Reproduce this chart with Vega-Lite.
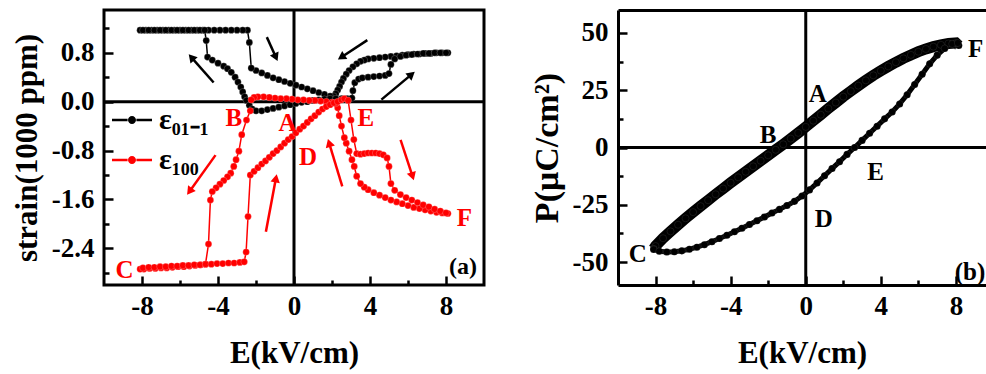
{
"$schema": "https://vega.github.io/schema/vega-lite/v6.json",
"background": "white",
"padding": {"left": 9, "top": 7, "right": 0, "bottom": 4},
"spacing": 43,
"config": {
  "font": "Liberation Serif",
  "view": {"stroke": "black", "strokeWidth": 3},
  "axis": {"labelFont": "Liberation Serif", "labelFontWeight": "bold", "labelFontSize": 27, "labelColor": "black", "labelOverlap": false,
           "titleFont": "Liberation Serif", "titleFontWeight": "bold", "titleFontSize": 31, "titleColor": "black",
           "grid": false, "domain": false, "tickColor": "black", "tickWidth": 2.5}
},
"datasets": {
  "strain": [
    {"i":1,"s":"ε₀₁₋₁","E":8.1,"S":0.80},{"i":2,"s":"ε₀₁₋₁","E":7.8,"S":0.80},{"i":3,"s":"ε₀₁₋₁","E":7.5,"S":0.80},{"i":4,"s":"ε₀₁₋₁","E":7.2,"S":0.79},{"i":5,"s":"ε₀₁₋₁","E":6.9,"S":0.79},{"i":6,"s":"ε₀₁₋₁","E":6.6,"S":0.78},{"i":7,"s":"ε₀₁₋₁","E":6.3,"S":0.78},{"i":8,"s":"ε₀₁₋₁","E":6.0,"S":0.77},{"i":9,"s":"ε₀₁₋₁","E":5.7,"S":0.76},{"i":10,"s":"ε₀₁₋₁","E":5.4,"S":0.75},
    {"i":11,"s":"ε₀₁₋₁","E":5.1,"S":0.74},{"i":12,"s":"ε₀₁₋₁","E":4.8,"S":0.73},{"i":13,"s":"ε₀₁₋₁","E":4.5,"S":0.72},{"i":14,"s":"ε₀₁₋₁","E":4.2,"S":0.71},{"i":15,"s":"ε₀₁₋₁","E":3.9,"S":0.70},{"i":16,"s":"ε₀₁₋₁","E":3.7,"S":0.68},{"i":17,"s":"ε₀₁₋₁","E":3.5,"S":0.66},{"i":18,"s":"ε₀₁₋₁","E":3.3,"S":0.62},{"i":19,"s":"ε₀₁₋₁","E":3.1,"S":0.57},{"i":20,"s":"ε₀₁₋₁","E":2.9,"S":0.51},
    {"i":21,"s":"ε₀₁₋₁","E":2.75,"S":0.45},{"i":22,"s":"ε₀₁₋₁","E":2.6,"S":0.38},{"i":23,"s":"ε₀₁₋₁","E":2.5,"S":0.32},{"i":24,"s":"ε₀₁₋₁","E":2.4,"S":0.25},{"i":25,"s":"ε₀₁₋₁","E":2.3,"S":0.19},{"i":26,"s":"ε₀₁₋₁","E":2.2,"S":0.13},{"i":27,"s":"ε₀₁₋₁","E":2.1,"S":0.09},{"i":28,"s":"ε₀₁₋₁","E":1.9,"S":0.09},{"i":29,"s":"ε₀₁₋₁","E":1.6,"S":0.12},{"i":30,"s":"ε₀₁₋₁","E":1.3,"S":0.15},
    {"i":31,"s":"ε₀₁₋₁","E":1.0,"S":0.18},{"i":32,"s":"ε₀₁₋₁","E":0.7,"S":0.21},{"i":33,"s":"ε₀₁₋₁","E":0.4,"S":0.24},{"i":34,"s":"ε₀₁₋₁","E":0.1,"S":0.27},{"i":35,"s":"ε₀₁₋₁","E":-0.2,"S":0.30},{"i":36,"s":"ε₀₁₋₁","E":-0.5,"S":0.33},{"i":37,"s":"ε₀₁₋₁","E":-0.8,"S":0.36},{"i":38,"s":"ε₀₁₋₁","E":-1.1,"S":0.39},{"i":39,"s":"ε₀₁₋₁","E":-1.4,"S":0.43},{"i":40,"s":"ε₀₁₋₁","E":-1.7,"S":0.47},
    {"i":41,"s":"ε₀₁₋₁","E":-2.0,"S":0.51},{"i":42,"s":"ε₀₁₋₁","E":-2.25,"S":0.55},{"i":43,"s":"ε₀₁₋₁","E":-2.35,"S":0.97},{"i":44,"s":"ε₀₁₋₁","E":-2.45,"S":1.17},{"i":45,"s":"ε₀₁₋₁","E":-2.7,"S":1.17},{"i":46,"s":"ε₀₁₋₁","E":-3.0,"S":1.17},{"i":47,"s":"ε₀₁₋₁","E":-3.3,"S":1.17},{"i":48,"s":"ε₀₁₋₁","E":-3.6,"S":1.17},{"i":49,"s":"ε₀₁₋₁","E":-3.9,"S":1.17},{"i":50,"s":"ε₀₁₋₁","E":-4.2,"S":1.17},
    {"i":51,"s":"ε₀₁₋₁","E":-4.5,"S":1.17},{"i":52,"s":"ε₀₁₋₁","E":-4.8,"S":1.17},{"i":53,"s":"ε₀₁₋₁","E":-5.1,"S":1.17},{"i":54,"s":"ε₀₁₋₁","E":-5.4,"S":1.17},{"i":55,"s":"ε₀₁₋₁","E":-5.7,"S":1.17},{"i":56,"s":"ε₀₁₋₁","E":-6.0,"S":1.17},{"i":57,"s":"ε₀₁₋₁","E":-6.3,"S":1.17},{"i":58,"s":"ε₀₁₋₁","E":-6.6,"S":1.17},{"i":59,"s":"ε₀₁₋₁","E":-6.9,"S":1.17},{"i":60,"s":"ε₀₁₋₁","E":-7.2,"S":1.17},
    {"i":61,"s":"ε₀₁₋₁","E":-7.5,"S":1.17},{"i":62,"s":"ε₀₁₋₁","E":-7.8,"S":1.17},{"i":63,"s":"ε₀₁₋₁","E":-8.1,"S":1.17},{"i":64,"s":"ε₀₁₋₁","E":-7.95,"S":1.17},{"i":65,"s":"ε₀₁₋₁","E":-7.65,"S":1.17},{"i":66,"s":"ε₀₁₋₁","E":-7.35,"S":1.17},{"i":67,"s":"ε₀₁₋₁","E":-7.05,"S":1.17},{"i":68,"s":"ε₀₁₋₁","E":-6.75,"S":1.17},{"i":69,"s":"ε₀₁₋₁","E":-6.45,"S":1.17},{"i":70,"s":"ε₀₁₋₁","E":-6.15,"S":1.17},
    {"i":71,"s":"ε₀₁₋₁","E":-5.85,"S":1.17},{"i":72,"s":"ε₀₁₋₁","E":-5.55,"S":1.17},{"i":73,"s":"ε₀₁₋₁","E":-5.25,"S":1.17},{"i":74,"s":"ε₀₁₋₁","E":-4.95,"S":1.17},{"i":75,"s":"ε₀₁₋₁","E":-4.7,"S":1.17},{"i":76,"s":"ε₀₁₋₁","E":-4.62,"S":1.0},{"i":77,"s":"ε₀₁₋₁","E":-4.55,"S":0.73},{"i":78,"s":"ε₀₁₋₁","E":-4.3,"S":0.68},{"i":79,"s":"ε₀₁₋₁","E":-4.0,"S":0.63},{"i":80,"s":"ε₀₁₋₁","E":-3.7,"S":0.58},
    {"i":81,"s":"ε₀₁₋₁","E":-3.5,"S":0.54},{"i":82,"s":"ε₀₁₋₁","E":-3.3,"S":0.48},{"i":83,"s":"ε₀₁₋₁","E":-3.1,"S":0.40},{"i":84,"s":"ε₀₁₋₁","E":-2.95,"S":0.32},{"i":85,"s":"ε₀₁₋₁","E":-2.8,"S":0.24},{"i":86,"s":"ε₀₁₋₁","E":-2.7,"S":0.16},{"i":87,"s":"ε₀₁₋₁","E":-2.6,"S":0.08},{"i":88,"s":"ε₀₁₋₁","E":-2.5,"S":0.02},{"i":89,"s":"ε₀₁₋₁","E":-2.35,"S":-0.06},{"i":90,"s":"ε₀₁₋₁","E":-2.2,"S":-0.12},
    {"i":91,"s":"ε₀₁₋₁","E":-2.0,"S":-0.15},{"i":92,"s":"ε₀₁₋₁","E":-1.7,"S":-0.15},{"i":93,"s":"ε₀₁₋₁","E":-1.4,"S":-0.13},{"i":94,"s":"ε₀₁₋₁","E":-1.1,"S":-0.11},{"i":95,"s":"ε₀₁₋₁","E":-0.8,"S":-0.09},{"i":96,"s":"ε₀₁₋₁","E":-0.5,"S":-0.07},{"i":97,"s":"ε₀₁₋₁","E":-0.2,"S":-0.05},{"i":98,"s":"ε₀₁₋₁","E":0.1,"S":-0.03},{"i":99,"s":"ε₀₁₋₁","E":0.4,"S":-0.01},{"i":100,"s":"ε₀₁₋₁","E":0.7,"S":0.0},
    {"i":101,"s":"ε₀₁₋₁","E":1.0,"S":0.02},{"i":102,"s":"ε₀₁₋₁","E":1.3,"S":0.03},{"i":103,"s":"ε₀₁₋₁","E":1.6,"S":0.04},{"i":104,"s":"ε₀₁₋₁","E":1.9,"S":0.05},{"i":105,"s":"ε₀₁₋₁","E":2.2,"S":0.05},{"i":106,"s":"ε₀₁₋₁","E":2.5,"S":0.05},{"i":107,"s":"ε₀₁₋₁","E":2.8,"S":0.05},{"i":108,"s":"ε₀₁₋₁","E":3.05,"S":0.06},{"i":109,"s":"ε₀₁₋₁","E":3.1,"S":0.18},{"i":110,"s":"ε₀₁₋₁","E":3.2,"S":0.31},
    {"i":111,"s":"ε₀₁₋₁","E":3.4,"S":0.37},{"i":112,"s":"ε₀₁₋₁","E":3.6,"S":0.39},{"i":113,"s":"ε₀₁₋₁","E":3.9,"S":0.40},{"i":114,"s":"ε₀₁₋₁","E":4.2,"S":0.41},{"i":115,"s":"ε₀₁₋₁","E":4.5,"S":0.42},{"i":116,"s":"ε₀₁₋₁","E":4.8,"S":0.43},{"i":117,"s":"ε₀₁₋₁","E":5.0,"S":0.46},{"i":118,"s":"ε₀₁₋₁","E":5.1,"S":0.61},{"i":119,"s":"ε₀₁₋₁","E":5.3,"S":0.70},{"i":120,"s":"ε₀₁₋₁","E":5.6,"S":0.74},
    {"i":121,"s":"ε₀₁₋₁","E":5.9,"S":0.76},{"i":122,"s":"ε₀₁₋₁","E":6.2,"S":0.77},{"i":123,"s":"ε₀₁₋₁","E":6.5,"S":0.78},{"i":124,"s":"ε₀₁₋₁","E":6.8,"S":0.79},{"i":125,"s":"ε₀₁₋₁","E":7.1,"S":0.79},{"i":126,"s":"ε₀₁₋₁","E":7.4,"S":0.80},{"i":127,"s":"ε₀₁₋₁","E":7.7,"S":0.80},{"i":128,"s":"ε₀₁₋₁","E":8.0,"S":0.80},
    {"i":201,"s":"ε₁₀₀","E":8.1,"S":-1.83},{"i":202,"s":"ε₁₀₀","E":7.8,"S":-1.82},{"i":203,"s":"ε₁₀₀","E":7.5,"S":-1.81},{"i":204,"s":"ε₁₀₀","E":7.2,"S":-1.79},{"i":205,"s":"ε₁₀₀","E":6.9,"S":-1.77},{"i":206,"s":"ε₁₀₀","E":6.6,"S":-1.75},{"i":207,"s":"ε₁₀₀","E":6.3,"S":-1.73},{"i":208,"s":"ε₁₀₀","E":6.0,"S":-1.70},{"i":209,"s":"ε₁₀₀","E":5.7,"S":-1.67},{"i":210,"s":"ε₁₀₀","E":5.4,"S":-1.64},
    {"i":211,"s":"ε₁₀₀","E":5.1,"S":-1.61},{"i":212,"s":"ε₁₀₀","E":4.8,"S":-1.57},{"i":213,"s":"ε₁₀₀","E":4.5,"S":-1.53},{"i":214,"s":"ε₁₀₀","E":4.2,"S":-1.49},{"i":215,"s":"ε₁₀₀","E":3.9,"S":-1.44},{"i":216,"s":"ε₁₀₀","E":3.7,"S":-1.40},{"i":217,"s":"ε₁₀₀","E":3.5,"S":-1.34},{"i":218,"s":"ε₁₀₀","E":3.3,"S":-1.22},{"i":219,"s":"ε₁₀₀","E":3.17,"S":-1.06},{"i":220,"s":"ε₁₀₀","E":3.05,"S":-0.95},
    {"i":221,"s":"ε₁₀₀","E":2.9,"S":-0.81},{"i":222,"s":"ε₁₀₀","E":2.75,"S":-0.68},{"i":223,"s":"ε₁₀₀","E":2.65,"S":-0.59},{"i":224,"s":"ε₁₀₀","E":2.5,"S":-0.40},{"i":225,"s":"ε₁₀₀","E":2.38,"S":-0.23},{"i":226,"s":"ε₁₀₀","E":2.3,"S":-0.10},{"i":227,"s":"ε₁₀₀","E":2.2,"S":-0.03},{"i":228,"s":"ε₁₀₀","E":2.0,"S":-0.01},{"i":229,"s":"ε₁₀₀","E":1.7,"S":0.0},{"i":230,"s":"ε₁₀₀","E":1.4,"S":0.01},
    {"i":231,"s":"ε₁₀₀","E":1.1,"S":0.02},{"i":232,"s":"ε₁₀₀","E":0.8,"S":0.02},{"i":233,"s":"ε₁₀₀","E":0.5,"S":0.03},{"i":234,"s":"ε₁₀₀","E":0.2,"S":0.03},{"i":235,"s":"ε₁₀₀","E":-0.1,"S":0.04},{"i":236,"s":"ε₁₀₀","E":-0.4,"S":0.05},{"i":237,"s":"ε₁₀₀","E":-0.7,"S":0.05},{"i":238,"s":"ε₁₀₀","E":-1.0,"S":0.06},{"i":239,"s":"ε₁₀₀","E":-1.3,"S":0.07},{"i":240,"s":"ε₁₀₀","E":-1.6,"S":0.08},
    {"i":241,"s":"ε₁₀₀","E":-1.9,"S":0.08},{"i":242,"s":"ε₁₀₀","E":-2.1,"S":0.07},{"i":243,"s":"ε₁₀₀","E":-2.25,"S":0.03},{"i":244,"s":"ε₁₀₀","E":-2.3,"S":-0.15},{"i":245,"s":"ε₁₀₀","E":-2.5,"S":-0.30},{"i":246,"s":"ε₁₀₀","E":-2.75,"S":-0.54},{"i":247,"s":"ε₁₀₀","E":-2.9,"S":-0.81},{"i":248,"s":"ε₁₀₀","E":-3.05,"S":-0.95},{"i":249,"s":"ε₁₀₀","E":-3.17,"S":-1.06},{"i":250,"s":"ε₁₀₀","E":-3.33,"S":-1.17},
    {"i":251,"s":"ε₁₀₀","E":-3.5,"S":-1.23},{"i":252,"s":"ε₁₀₀","E":-3.7,"S":-1.29},{"i":253,"s":"ε₁₀₀","E":-3.9,"S":-1.35},{"i":254,"s":"ε₁₀₀","E":-4.1,"S":-1.41},{"i":255,"s":"ε₁₀₀","E":-4.3,"S":-1.47},{"i":256,"s":"ε₁₀₀","E":-4.4,"S":-1.61},{"i":257,"s":"ε₁₀₀","E":-4.5,"S":-2.33},{"i":258,"s":"ε₁₀₀","E":-4.66,"S":-2.66},{"i":259,"s":"ε₁₀₀","E":-4.9,"S":-2.67},{"i":260,"s":"ε₁₀₀","E":-5.2,"S":-2.68},
    {"i":261,"s":"ε₁₀₀","E":-5.5,"S":-2.69},{"i":262,"s":"ε₁₀₀","E":-5.8,"S":-2.70},{"i":263,"s":"ε₁₀₀","E":-6.1,"S":-2.70},{"i":264,"s":"ε₁₀₀","E":-6.4,"S":-2.71},{"i":265,"s":"ε₁₀₀","E":-6.7,"S":-2.72},{"i":266,"s":"ε₁₀₀","E":-7.0,"S":-2.72},{"i":267,"s":"ε₁₀₀","E":-7.3,"S":-2.73},{"i":268,"s":"ε₁₀₀","E":-7.6,"S":-2.73},{"i":269,"s":"ε₁₀₀","E":-7.9,"S":-2.74},{"i":270,"s":"ε₁₀₀","E":-8.1,"S":-2.74},
    {"i":271,"s":"ε₁₀₀","E":-7.95,"S":-2.72},{"i":272,"s":"ε₁₀₀","E":-7.65,"S":-2.71},{"i":273,"s":"ε₁₀₀","E":-7.35,"S":-2.71},{"i":274,"s":"ε₁₀₀","E":-7.05,"S":-2.70},{"i":275,"s":"ε₁₀₀","E":-6.75,"S":-2.70},{"i":276,"s":"ε₁₀₀","E":-6.45,"S":-2.69},{"i":277,"s":"ε₁₀₀","E":-6.15,"S":-2.69},{"i":278,"s":"ε₁₀₀","E":-5.85,"S":-2.68},{"i":279,"s":"ε₁₀₀","E":-5.55,"S":-2.68},{"i":280,"s":"ε₁₀₀","E":-5.25,"S":-2.67},
    {"i":281,"s":"ε₁₀₀","E":-4.95,"S":-2.67},{"i":282,"s":"ε₁₀₀","E":-4.65,"S":-2.66},{"i":283,"s":"ε₁₀₀","E":-4.35,"S":-2.66},{"i":284,"s":"ε₁₀₀","E":-4.05,"S":-2.65},{"i":285,"s":"ε₁₀₀","E":-3.75,"S":-2.65},{"i":286,"s":"ε₁₀₀","E":-3.45,"S":-2.64},{"i":287,"s":"ε₁₀₀","E":-3.15,"S":-2.64},{"i":288,"s":"ε₁₀₀","E":-2.85,"S":-2.63},{"i":289,"s":"ε₁₀₀","E":-2.62,"S":-2.62},{"i":290,"s":"ε₁₀₀","E":-2.52,"S":-2.46},
    {"i":291,"s":"ε₁₀₀","E":-2.42,"S":-1.88},{"i":292,"s":"ε₁₀₀","E":-2.3,"S":-1.20},{"i":293,"s":"ε₁₀₀","E":-2.1,"S":-1.14},{"i":294,"s":"ε₁₀₀","E":-1.9,"S":-1.08},{"i":295,"s":"ε₁₀₀","E":-1.7,"S":-1.02},{"i":296,"s":"ε₁₀₀","E":-1.5,"S":-0.97},{"i":297,"s":"ε₁₀₀","E":-1.3,"S":-0.91},{"i":298,"s":"ε₁₀₀","E":-1.1,"S":-0.85},{"i":299,"s":"ε₁₀₀","E":-0.9,"S":-0.80},{"i":300,"s":"ε₁₀₀","E":-0.7,"S":-0.74},
    {"i":301,"s":"ε₁₀₀","E":-0.5,"S":-0.68},{"i":302,"s":"ε₁₀₀","E":-0.3,"S":-0.62},{"i":303,"s":"ε₁₀₀","E":-0.1,"S":-0.57},{"i":304,"s":"ε₁₀₀","E":0.1,"S":-0.51},{"i":305,"s":"ε₁₀₀","E":0.3,"S":-0.45},{"i":306,"s":"ε₁₀₀","E":0.5,"S":-0.40},{"i":307,"s":"ε₁₀₀","E":0.7,"S":-0.34},{"i":308,"s":"ε₁₀₀","E":0.9,"S":-0.28},{"i":309,"s":"ε₁₀₀","E":1.1,"S":-0.23},{"i":310,"s":"ε₁₀₀","E":1.3,"S":-0.17},
    {"i":311,"s":"ε₁₀₀","E":1.5,"S":-0.12},{"i":312,"s":"ε₁₀₀","E":1.7,"S":-0.08},{"i":313,"s":"ε₁₀₀","E":1.9,"S":-0.05},{"i":314,"s":"ε₁₀₀","E":2.1,"S":-0.02},{"i":315,"s":"ε₁₀₀","E":2.3,"S":0.0},{"i":316,"s":"ε₁₀₀","E":2.5,"S":0.03},{"i":317,"s":"ε₁₀₀","E":2.65,"S":0.05},{"i":318,"s":"ε₁₀₀","E":2.85,"S":0.02},{"i":319,"s":"ε₁₀₀","E":3.0,"S":-0.30},{"i":320,"s":"ε₁₀₀","E":3.15,"S":-0.62},
    {"i":321,"s":"ε₁₀₀","E":3.3,"S":-0.85},{"i":322,"s":"ε₁₀₀","E":3.5,"S":-0.86},{"i":323,"s":"ε₁₀₀","E":3.7,"S":-0.85},{"i":324,"s":"ε₁₀₀","E":3.9,"S":-0.84},{"i":325,"s":"ε₁₀₀","E":4.1,"S":-0.84},{"i":326,"s":"ε₁₀₀","E":4.3,"S":-0.84},{"i":327,"s":"ε₁₀₀","E":4.5,"S":-0.85},{"i":328,"s":"ε₁₀₀","E":4.7,"S":-0.87},{"i":329,"s":"ε₁₀₀","E":4.9,"S":-0.92},{"i":330,"s":"ε₁₀₀","E":5.0,"S":-1.06},
    {"i":331,"s":"ε₁₀₀","E":5.1,"S":-1.34},{"i":332,"s":"ε₁₀₀","E":5.3,"S":-1.45},{"i":333,"s":"ε₁₀₀","E":5.6,"S":-1.52},{"i":334,"s":"ε₁₀₀","E":5.9,"S":-1.57},{"i":335,"s":"ε₁₀₀","E":6.2,"S":-1.61},{"i":336,"s":"ε₁₀₀","E":6.5,"S":-1.65},{"i":337,"s":"ε₁₀₀","E":6.8,"S":-1.69},{"i":338,"s":"ε₁₀₀","E":7.1,"S":-1.72},{"i":339,"s":"ε₁₀₀","E":7.4,"S":-1.76},{"i":340,"s":"ε₁₀₀","E":7.7,"S":-1.79},{"i":341,"s":"ε₁₀₀","E":8.0,"S":-1.82}
  ],
  "arrows": [
    {"s":"ε₀₁₋₁","x":-1.43,"y":1.056,"x2":-0.952,"y2":0.726,"ang":156},
    {"s":"ε₀₁₋₁","x":-4.23,"y":0.314,"x2":-5.40,"y2":0.726,"ang":319},
    {"s":"ε₀₁₋₁","x":3.86,"y":1.007,"x2":2.49,"y2":0.726,"ang":237},
    {"s":"ε₀₁₋₁","x":4.60,"y":0.033,"x2":6.19,"y2":0.446,"ang":50},
    {"s":"ε₁₀₀","x":-4.13,"y":-0.875,"x2":-5.50,"y2":-1.469,"ang":216},
    {"s":"ε₁₀₀","x":-1.48,"y":-2.129,"x2":-0.95,"y2":-1.254,"ang":11},
    {"s":"ε₁₀₀","x":2.54,"y":-1.386,"x2":1.85,"y2":-0.677,"ang":343},
    {"s":"ε₁₀₀","x":5.61,"y":-0.627,"x2":6.24,"y2":-1.221,"ang":162}
  ],
  "lettersA": [
    {"t":"B","s":"ε₁₀₀","E":-3.17,"S":-0.27},{"t":"A","s":"ε₁₀₀","E":-0.34,"S":-0.355},{"t":"E","s":"ε₁₀₀","E":3.78,"S":-0.27},
    {"t":"D","s":"ε₁₀₀","E":0.74,"S":-0.9},{"t":"C","s":"ε₁₀₀","E":-8.92,"S":-2.76},{"t":"F","s":"ε₁₀₀","E":8.97,"S":-1.91}
  ],
  "pol": [
    {"i":1,"br":"up","E":8.15,"P":44.5},{"i":2,"br":"up","E":8.0,"P":45.6},{"i":3,"br":"up","E":7.6,"P":45.4},{"i":4,"br":"up","E":7.2,"P":44.8},{"i":5,"br":"up","E":6.8,"P":44.0},{"i":6,"br":"up","E":6.4,"P":43.0},{"i":7,"br":"up","E":6.0,"P":41.8},{"i":8,"br":"up","E":5.6,"P":40.4},{"i":9,"br":"up","E":5.2,"P":38.9},{"i":10,"br":"up","E":4.8,"P":37.2},
    {"i":11,"br":"up","E":4.4,"P":35.4},{"i":12,"br":"up","E":4.0,"P":33.5},{"i":13,"br":"up","E":3.6,"P":31.5},{"i":14,"br":"up","E":3.2,"P":29.3},{"i":15,"br":"up","E":2.8,"P":27.0},{"i":16,"br":"up","E":2.4,"P":24.6},{"i":17,"br":"up","E":2.0,"P":22.2},{"i":18,"br":"up","E":1.6,"P":19.6},{"i":19,"br":"up","E":1.2,"P":17.0},{"i":20,"br":"up","E":0.8,"P":14.3},
    {"i":21,"br":"up","E":0.4,"P":11.7},{"i":22,"br":"up","E":0.0,"P":9.0},{"i":23,"br":"up","E":-0.4,"P":6.4},{"i":24,"br":"up","E":-0.8,"P":3.9},{"i":25,"br":"up","E":-1.2,"P":1.4},{"i":26,"br":"up","E":-1.6,"P":-1.0},{"i":27,"br":"up","E":-2.0,"P":-3.4},{"i":28,"br":"up","E":-2.4,"P":-5.8},{"i":29,"br":"up","E":-2.8,"P":-8.2},{"i":30,"br":"up","E":-3.2,"P":-10.6},
    {"i":31,"br":"up","E":-3.6,"P":-13.0},{"i":32,"br":"up","E":-4.0,"P":-15.4},{"i":33,"br":"up","E":-4.4,"P":-17.9},{"i":34,"br":"up","E":-4.8,"P":-20.4},{"i":35,"br":"up","E":-5.2,"P":-23.0},{"i":36,"br":"up","E":-5.6,"P":-25.6},{"i":37,"br":"up","E":-6.0,"P":-28.2},{"i":38,"br":"up","E":-6.4,"P":-30.9},{"i":39,"br":"up","E":-6.8,"P":-33.7},{"i":40,"br":"up","E":-7.2,"P":-36.6},
    {"i":41,"br":"up","E":-7.6,"P":-39.6},{"i":42,"br":"up","E":-8.0,"P":-43.0},{"i":43,"br":"up","E":-8.1,"P":-44.2},
    {"i":51,"br":"down","E":-8.1,"P":-44.5},{"i":52,"br":"down","E":-7.8,"P":-45.3},{"i":53,"br":"down","E":-7.4,"P":-45.6},{"i":54,"br":"down","E":-7.0,"P":-45.5},{"i":55,"br":"down","E":-6.6,"P":-45.1},{"i":56,"br":"down","E":-6.2,"P":-44.4},{"i":57,"br":"down","E":-5.8,"P":-43.5},{"i":58,"br":"down","E":-5.4,"P":-42.4},{"i":59,"br":"down","E":-5.0,"P":-41.1},{"i":60,"br":"down","E":-4.6,"P":-39.7},
    {"i":61,"br":"down","E":-4.2,"P":-38.3},{"i":62,"br":"down","E":-3.8,"P":-36.8},{"i":63,"br":"down","E":-3.4,"P":-35.2},{"i":64,"br":"down","E":-3.0,"P":-33.6},{"i":65,"br":"down","E":-2.6,"P":-32.0},{"i":66,"br":"down","E":-2.2,"P":-30.3},{"i":67,"br":"down","E":-1.8,"P":-28.6},{"i":68,"br":"down","E":-1.4,"P":-27.0},{"i":69,"br":"down","E":-1.0,"P":-25.3},{"i":70,"br":"down","E":-0.6,"P":-23.5},
    {"i":71,"br":"down","E":-0.2,"P":-21.2},{"i":72,"br":"down","E":0.2,"P":-18.5},{"i":73,"br":"down","E":0.6,"P":-15.5},{"i":74,"br":"down","E":1.0,"P":-12.3},{"i":75,"br":"down","E":1.4,"P":-9.2},{"i":76,"br":"down","E":1.8,"P":-6.2},{"i":77,"br":"down","E":2.2,"P":-3.0},{"i":78,"br":"down","E":2.6,"P":0.0},{"i":79,"br":"down","E":3.0,"P":3.1},{"i":80,"br":"down","E":3.4,"P":6.2},
    {"i":81,"br":"down","E":3.8,"P":9.3},{"i":82,"br":"down","E":4.2,"P":12.5},{"i":83,"br":"down","E":4.6,"P":15.5},{"i":84,"br":"down","E":5.0,"P":19.0},{"i":85,"br":"down","E":5.4,"P":23.0},{"i":86,"br":"down","E":5.8,"P":27.5},{"i":87,"br":"down","E":6.2,"P":32.0},{"i":88,"br":"down","E":6.6,"P":36.5},{"i":89,"br":"down","E":7.0,"P":40.3},{"i":90,"br":"down","E":7.4,"P":43.2},
    {"i":91,"br":"down","E":7.8,"P":45.2},{"i":92,"br":"down","E":8.1,"P":45.6}
  ],
  "lettersB": [
    {"t":"A","E":0.64,"P":23.2},{"t":"B","E":-2.0,"P":5.5},{"t":"E","E":3.72,"P":-10.8},{"t":"D","E":0.96,"P":-31.2},
    {"t":"C","E":-8.94,"P":-46.5},{"t":"F","E":9.05,"P":43.1},{"t":"(b)","E":8.75,"P":-54.4}
  ]
},
"hconcat": [
  {
    "width": 380, "height": 275,
    "resolve": {"axis": {"x": "independent", "y": "independent"}},
    "layer": [
      {"data": {"values": [{"v": 0}]}, "mark": {"type": "rule", "color": "black", "strokeWidth": 3},
       "encoding": {"x": {"field": "v", "type": "quantitative", "scale": {"domain": [-10, 10], "nice": false},
         "axis": {"orient": "bottom", "title": "E(kV/cm)", "values": [-8,-4,0,4,8], "ticks": false,
                  "labelExpr": "replace(datum.label, '−', '-')", "labelPadding": 8, "titlePadding": 19}}}},
      {"data": {"values": [{"v": 0}]}, "mark": {"type": "rule", "color": "black", "strokeWidth": 3},
       "encoding": {"y": {"field": "v", "type": "quantitative", "scale": {"domain": [-3, 1.5], "nice": false},
         "axis": {"orient": "left", "title": "strain(1000 ppm)", "values": [-2.4,-1.6,-0.8,0,0.8], "format": ".1f", "ticks": false,
                  "labelExpr": "replace(datum.label, '−', '-')", "labelPadding": 10, "titlePadding": 8}}}},
      {"data": {"values": [{"v": 0}]}, "mark": {"type": "point", "opacity": 0},
       "encoding": {"x": {"field": "v", "type": "quantitative",
                          "axis": {"orient": "top", "offset": -275, "values": [-8,-4,0,4,8], "tickSize": 9, "labels": false, "title": null}},
                    "y": {"field": "v", "type": "quantitative",
                          "axis": {"orient": "right", "offset": -380, "values": [-2.4,-1.6,-0.8,0,0.8], "tickSize": 9, "labels": false, "title": null}}}},
      {"data": {"values": [{"v": 0}]}, "mark": {"type": "point", "opacity": 0},
       "encoding": {"x": {"field": "v", "type": "quantitative",
                          "axis": {"orient": "top", "offset": -275, "values": [-6,-2,2,6], "tickSize": 5, "labels": false, "title": null}},
                    "y": {"field": "v", "type": "quantitative",
                          "axis": {"orient": "right", "offset": -380, "values": [-2.8,-2.0,-1.2,-0.4,0.4,1.2], "tickSize": 5, "labels": false, "title": null}}}},
      {"data": {"name": "strain"}, "mark": {"type": "line", "strokeWidth": 1.5},
       "encoding": {"x": {"field": "E", "type": "quantitative", "axis": null},
                    "y": {"field": "S", "type": "quantitative", "axis": null},
                    "color": {"field": "s", "type": "nominal", "scale": {"domain": ["ε₀₁₋₁", "ε₁₀₀"], "range": ["black", "#ff0000"]}},
                    "order": {"field": "i", "type": "quantitative"}}},
      {"data": {"name": "strain"}, "mark": {"type": "point", "filled": true, "size": 45, "opacity": 1, "stroke": "white", "strokeWidth": 0.6, "strokeOpacity": 0.35},
       "encoding": {"x": {"field": "E", "type": "quantitative", "axis": null},
                    "y": {"field": "S", "type": "quantitative", "axis": null},
                    "color": {"field": "s", "type": "nominal",
                              "legend": {"orient": "none", "legendX": 8, "legendY": 90, "title": null,
                                         "symbolType": "M-1,-0.06H-0.22V0.06H-1Z M0.22,-0.06H1V0.06H0.22Z M0.2,0A0.2,0.2,0,1,1,-0.2,0A0.2,0.2,0,1,1,0.2,0Z",
                                         "symbolSize": 1600, "symbolStrokeWidth": 0, "symbolOpacity": 1,
                                         "labelFont": "Liberation Serif", "labelFontWeight": "bold", "labelFontSize": 30, "labelColor": "black",
                                         "labelOffset": 7, "rowPadding": 5}}}},
      {"data": {"name": "arrows"}, "mark": {"type": "rule", "strokeWidth": 2.5},
       "encoding": {"x": {"field": "x", "type": "quantitative", "axis": null}, "y": {"field": "y", "type": "quantitative", "axis": null},
                    "x2": {"field": "x2"}, "y2": {"field": "y2"},
                    "color": {"field": "s", "type": "nominal"}}},
      {"data": {"name": "arrows"}, "mark": {"type": "point", "shape": "triangle-up", "filled": true, "size": 90, "opacity": 1},
       "encoding": {"x": {"field": "x2", "type": "quantitative", "axis": null}, "y": {"field": "y2", "type": "quantitative", "axis": null},
                    "angle": {"field": "ang", "type": "quantitative", "scale": {"domain": [0, 360], "range": [0, 360]}, "legend": null},
                    "color": {"field": "s", "type": "nominal"}}},
      {"data": {"name": "lettersA"}, "mark": {"type": "text", "font": "Liberation Serif", "fontWeight": "bold", "fontSize": 25, "align": "center", "baseline": "middle"},
       "encoding": {"x": {"field": "E", "type": "quantitative", "axis": null}, "y": {"field": "S", "type": "quantitative", "axis": null},
                    "text": {"field": "t"}, "color": {"field": "s", "type": "nominal"}}},
      {"data": {"values": [{"t": "(a)", "E": 8.89, "S": -2.71}]}, "mark": {"type": "text", "font": "Liberation Serif", "fontWeight": "bold", "fontSize": 24, "align": "center", "baseline": "middle", "color": "black"},
       "encoding": {"x": {"field": "E", "type": "quantitative", "axis": null}, "y": {"field": "S", "type": "quantitative", "axis": null},
                    "text": {"field": "t"}}}
    ]
  },
  {
    "width": 368, "height": 275,
    "view": {"stroke": null},
    "resolve": {"axis": {"x": "independent", "y": "independent"}},
    "layer": [
      {"data": {"values": [{"v": 0}]}, "mark": {"type": "rule", "color": "black", "strokeWidth": 3},
       "encoding": {"x": {"field": "v", "type": "quantitative", "scale": {"domain": [-10, 9.6], "nice": false},
         "axis": {"orient": "bottom", "title": "E(kV/cm)", "values": [-8,-4,0,4,8], "domain": true, "domainWidth": 3, "domainColor": "black", "ticks": false,
                  "labelExpr": "replace(datum.label, '−', '-')", "labelPadding": 8, "titlePadding": 19}}}},
      {"data": {"values": [{"v": 0}]}, "mark": {"type": "rule", "color": "black", "strokeWidth": 3},
       "encoding": {"y": {"field": "v", "type": "quantitative", "scale": {"domain": [-60, 60], "nice": false},
         "axis": {"orient": "left", "title": "P(μC/cm²)", "titleFontSize": 34, "values": [-50,-25,0,25,50], "domain": true, "domainWidth": 3, "domainColor": "black", "ticks": false,
                  "labelExpr": "replace(datum.label, '−', '-')", "labelPadding": 10, "titlePadding": 8}}}},
      {"data": {"values": [{"v": 0}]}, "mark": {"type": "point", "opacity": 0},
       "encoding": {"x": {"field": "v", "type": "quantitative",
         "axis": {"orient": "top", "title": null, "labels": false, "ticks": false, "domain": true, "domainWidth": 3, "domainColor": "black"}}}},
      {"data": {"values": [{"v": 0}]}, "mark": {"type": "point", "opacity": 0},
       "encoding": {"x": {"field": "v", "type": "quantitative",
                          "axis": {"orient": "top", "offset": -275, "values": [-8,-4,0,4,8], "tickSize": 9, "labels": false, "title": null}},
                    "y": {"field": "v", "type": "quantitative",
                          "axis": {"orient": "right", "offset": -368, "values": [-50,-25,0,25,50], "tickSize": 9, "labels": false, "title": null}}}},
      {"data": {"values": [{"v": 0}]}, "mark": {"type": "point", "opacity": 0},
       "encoding": {"x": {"field": "v", "type": "quantitative",
                          "axis": {"orient": "top", "offset": -275, "values": [-6,-2,2,6], "tickSize": 5, "labels": false, "title": null}},
                    "y": {"field": "v", "type": "quantitative",
                          "axis": {"orient": "right", "offset": -368, "values": [-37.5,-12.5,12.5,37.5], "tickSize": 5, "labels": false, "title": null}}}},
      {"data": {"name": "pol"}, "mark": {"type": "line", "color": "black"},
       "encoding": {"x": {"field": "E", "type": "quantitative", "axis": null},
                    "y": {"field": "P", "type": "quantitative", "axis": null},
                    "detail": {"field": "br"},
                    "strokeWidth": {"field": "br", "type": "ordinal", "scale": {"domain": ["up", "down"], "range": [11, 5]}, "legend": null},
                    "order": {"field": "i", "type": "quantitative"}}},
      {"data": {"name": "pol"}, "mark": {"type": "point", "filled": true, "size": 50, "opacity": 1, "color": "black", "stroke": "white", "strokeWidth": 0.6, "strokeOpacity": 0.15},
       "encoding": {"x": {"field": "E", "type": "quantitative", "axis": null},
                    "y": {"field": "P", "type": "quantitative", "axis": null}}},
      {"data": {"name": "lettersB"}, "mark": {"type": "text", "font": "Liberation Serif", "fontWeight": "bold", "fontSize": 25, "align": "center", "baseline": "middle", "color": "black", "clip": true},
       "encoding": {"x": {"field": "E", "type": "quantitative", "axis": null}, "y": {"field": "P", "type": "quantitative", "axis": null},
                    "text": {"field": "t"}}}
    ]
  }
]
}
